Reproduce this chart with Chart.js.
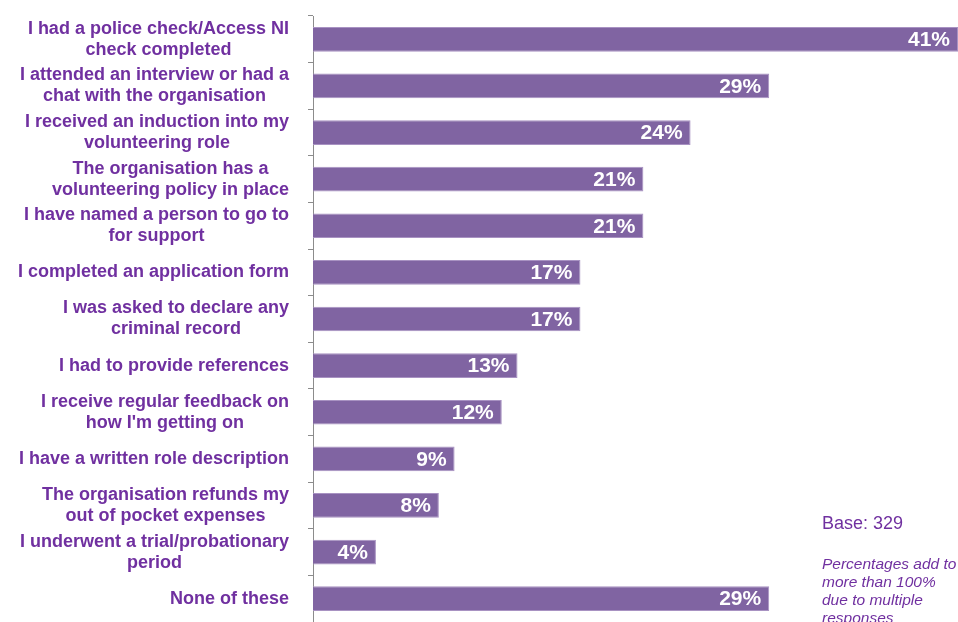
<!DOCTYPE html>
<html>
<head>
<meta charset="utf-8">
<script src="https://cdn.jsdelivr.net/npm/chart.js@4.4.1/dist/chart.umd.min.js"></script>
<style>
  html, body { margin: 0; padding: 0; background: #fff; }
  #wrap { position: relative; width: 958px; height: 622px; }
  #note {
    position: absolute; left: 822px; top: 513px;
    font-family: "Liberation Sans", Arial, sans-serif; color: #7030A0;
  }
  #note .base { font-size: 18px; }
  #note .foot { margin-top: 21px; font-size: 15.5px; font-style: italic; line-height: 18px; }
</style>
</head>
<body>
<div id="wrap">
  <canvas id="volChart" width="958" height="622"></canvas>
  <div id="note">
    <div class="base">Base: 329</div>
    <div class="foot">Percentages add to<br>more than 100%<br>due to multiple<br>responses</div>
  </div>
</div>
<script>
// survey items (multi-line labels) and share of respondents, %
const categories = [
  ['I had a police check/Access NI', 'check completed'],
  ['I attended an interview or had a', 'chat with the organisation'],
  ['I received an induction into my', 'volunteering role'],
  ['The organisation has a', 'volunteering policy in place'],
  ['I have named a person to go to', 'for support'],
  'I completed an application form',
  ['I was asked to declare any', 'criminal record'],
  'I had to provide references',
  ['I receive regular feedback on', "how I'm getting on"],
  'I have a written role description',
  ['The organisation refunds my', 'out of pocket expenses'],
  ['I underwent a trial/probationary', 'period'],
  'None of these'
];
const percentages = [41, 29, 24, 21, 21, 17, 17, 13, 12, 9, 8, 4, 29];
const xMax = 41;

const labelFont = '"Liberation Sans", Arial, sans-serif';
const labelColor = '#7030A0';

// category text: each block right-aligned to the axis, lines centred inside it
const categoryLabels = {
  id: 'categoryLabels',
  afterDraw(chart) {
    const ctx = chart.ctx;
    const yScale = chart.scales.y;
    const right = yScale.right - 24;
    const lineH = 21;
    ctx.save();
    ctx.fillStyle = labelColor;
    ctx.font = 'bold 18px ' + labelFont;
    ctx.textAlign = 'center';
    ctx.textBaseline = 'middle';
    categories.forEach((lab, i) => {
      const lines = Array.isArray(lab) ? lab : [lab];
      const w = Math.max(...lines.map(l => ctx.measureText(l).width));
      const cx = right - w / 2;
      const y0 = yScale.getPixelForTick(i) - (lines.length - 1) * lineH / 2;
      lines.forEach((l, j) => ctx.fillText(l, cx, y0 + j * lineH));
    });
    ctx.restore();
  }
};

// white value text at the end of each bar
const valueLabels = {
  id: 'valueLabels',
  afterDatasetsDraw(chart) {
    const ctx = chart.ctx;
    const meta = chart.getDatasetMeta(0);
    ctx.save();
    ctx.fillStyle = '#ffffff';
    ctx.font = 'bold 21px ' + labelFont;
    ctx.textAlign = 'right';
    ctx.textBaseline = 'middle';
    meta.data.forEach((bar, i) => {
      ctx.fillText(percentages[i] + '%', bar.x - 8, bar.y + 1);
    });
    ctx.restore();
  }
};

new Chart(document.getElementById('volChart'), {
  type: 'bar',
  data: {
    labels: categories,
    datasets: [{
      data: percentages,
      backgroundColor: '#8064A2',
      borderColor: '#a892c2',
      borderWidth: 1,
      categoryPercentage: 0.53,
      barPercentage: 1
    }]
  },
  options: {
    indexAxis: 'y',
    responsive: false,
    animation: false,
    layout: { padding: { top: 16, right: 0, bottom: 0, left: 0 } },
    plugins: {
      legend: { display: false },
      tooltip: { enabled: false }
    },
    scales: {
      x: {
        display: false,
        min: 0,
        max: xMax
      },
      y: {
        afterFit(scale) {
          // fixed label column, and no extra room for the outer labels
          scale.width = 313;
          scale.paddingTop = 0;
          scale.paddingBottom = 0;
        },
        border: { display: true, color: '#8c8c8c', width: 1 },
        grid: {
          drawOnChartArea: false,
          drawTicks: true,
          tickLength: 5,
          color: '#8c8c8c',
          offset: true
        },
        ticks: {
          // drawn by the categoryLabels plugin instead
          color: 'rgba(0,0,0,0)',
          padding: 19,
          font: { family: labelFont, size: 18, weight: 'bold', lineHeight: 1.15 }
        }
      }
    }
  },
  plugins: [valueLabels, categoryLabels]
});
</script>
</body>
</html>
